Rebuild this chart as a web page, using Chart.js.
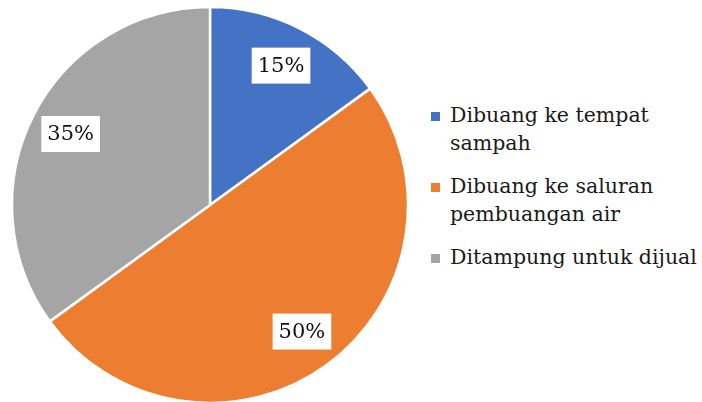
<!DOCTYPE html>
<html>
<head>
<meta charset="utf-8">
<script src="https://cdn.jsdelivr.net/npm/chart.js@4"></script>
<style>
  body { margin: 0; background: #fff; }
  #wrap { position: relative; width: 702px; height: 402px; overflow: hidden; }
  #pie-box { position: absolute; left: 0; top: 0; width: 420px; height: 402px; }
  #legend { position: absolute; left: 431px; top: 101px; font-family: "DejaVu Serif", "Liberation Serif", serif; font-size: 20.5px; color: #1a1a1a; white-space: nowrap; }
  .item { position: relative; padding-left: 19px; line-height: 28px; margin-bottom: 15px; }
  .item span.box { position: absolute; left: 0; top: 11px; width: 9px; height: 9px; }
</style>
</head>
<body>
<div id="wrap">
  <div id="pie-box"><canvas id="pie"></canvas></div>
  <div id="legend"></div>
</div>
<script>
const categories = ["Dibuang ke tempat sampah", "Dibuang ke saluran pembuangan air", "Ditampung untuk dijual"];
const legendLines = [["Dibuang ke tempat", "sampah"], ["Dibuang ke saluran", "pembuangan air"], ["Ditampung untuk dijual"]];
const values = [15, 50, 35];
const colors = ["#4472C4", "#ED7D31", "#A5A5A5"];

// white boxes with percentages on each slice
const boxLabels = {
  id: "boxLabels",
  afterDatasetsDraw(chart) {
    const ctx = chart.ctx;
    const meta = chart.getDatasetMeta(0);
    ctx.save();
    ctx.font = '21px "DejaVu Serif", "Liberation Serif", serif';
    ctx.textAlign = "center";
    ctx.textBaseline = "middle";
    meta.data.forEach((arc, i) => {
      const mid = (arc.startAngle + arc.endAngle) / 2;
      const r = arc.outerRadius * 0.79;
      const x = arc.x + Math.cos(mid) * r;
      const y = arc.y + Math.sin(mid) * r;
      const txt = values[i] + "%";
      const w = Math.max(ctx.measureText(txt).width + 12, 56);
      const h = 36;
      ctx.fillStyle = "#fff";
      ctx.fillRect(x - w / 2, y - h / 2, w, h);
      ctx.fillStyle = "#111";
      ctx.fillText(txt, x, y + 1);
    });
    ctx.restore();
  }
};

new Chart(document.getElementById("pie"), {
  type: "pie",
  data: {
    labels: categories,
    datasets: [{
      data: values,
      backgroundColor: colors,
      borderColor: "#fff",
      borderWidth: 2.5,
      radius: 198
    }]
  },
  options: {
    responsive: true,
    maintainAspectRatio: false,
    animation: false,
    layout: { padding: { top: 8 } },
    plugins: {
      legend: { display: false },
      tooltip: { enabled: false }
    }
  },
  plugins: [boxLabels]
});

const legend = document.getElementById("legend");
legendLines.forEach((lines, i) => {
  const div = document.createElement("div");
  div.className = "item";
  div.innerHTML = '<span class="box" style="background:' + colors[i] + '"></span>' + lines.join("<br>");
  legend.appendChild(div);
});
</script>
</body>
</html>
